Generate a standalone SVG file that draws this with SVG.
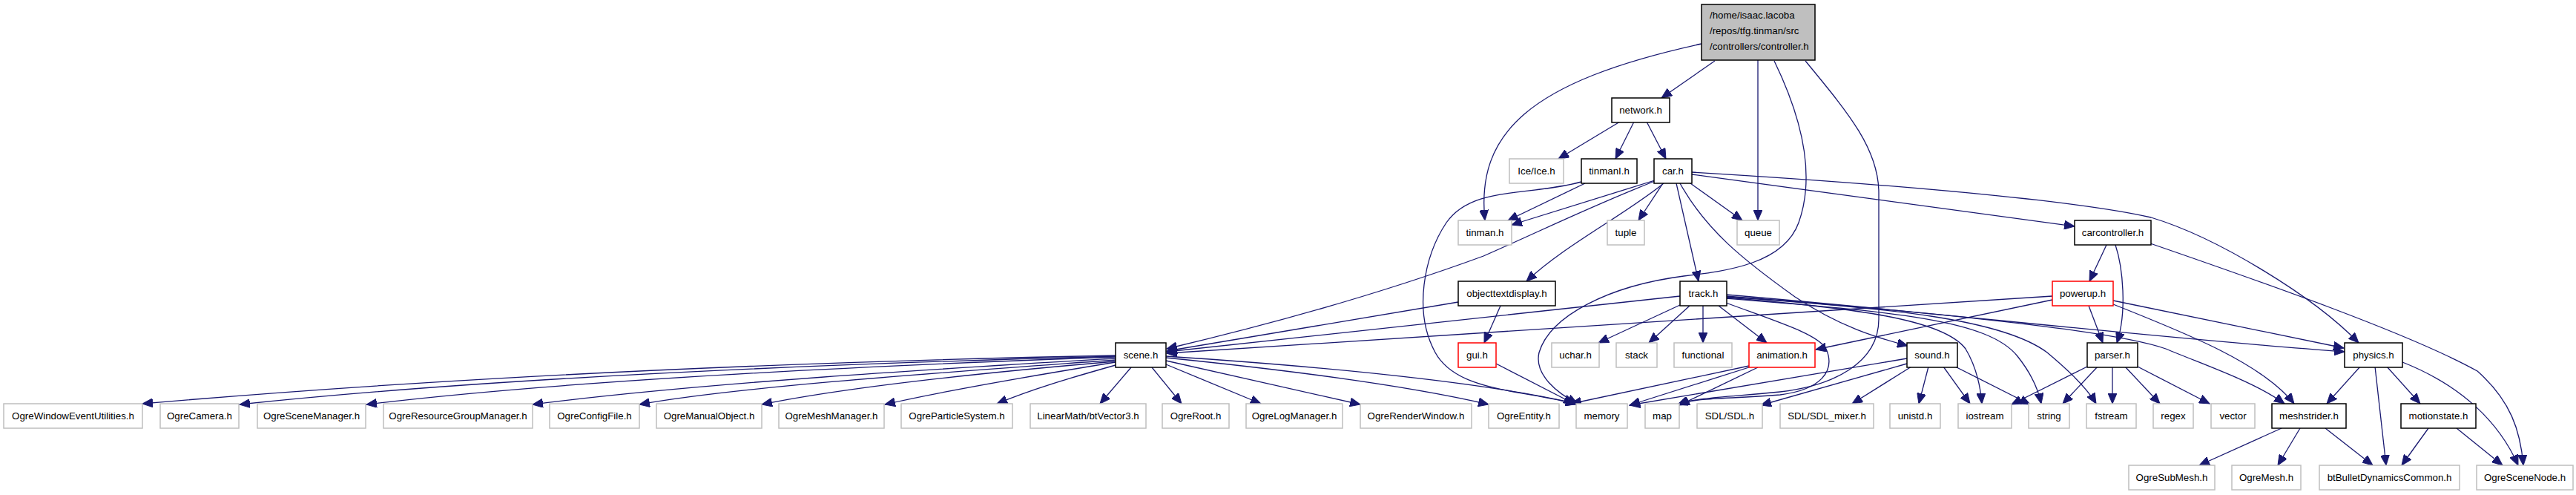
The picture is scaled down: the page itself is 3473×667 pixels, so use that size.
<svg xmlns="http://www.w3.org/2000/svg" width="3473" height="667" viewBox="0 0 3473 667">
<style>
.n rect{fill:#fff;stroke:#000;stroke-width:1.5}
.x rect{fill:#fff;stroke:#bfbfbf;stroke-width:1.5}
.r rect{fill:#fff;stroke:#ff0000;stroke-width:1.5}
.root rect{fill:#bfbfbf;stroke:#000;stroke-width:1.5}
text{font-family:"Liberation Sans",Arial,Helvetica,sans-serif;font-size:13.3px;fill:#000;text-anchor:middle}
.root text{text-anchor:start}
#edges path{fill:none;stroke:#191970;stroke-width:1.3;marker-end:url(#ah)}
</style>
<defs>
<marker id="ah" markerUnits="userSpaceOnUse" markerWidth="15" markerHeight="12" refX="14" refY="6" orient="auto">
<path d="M0,0 L14,6 L0,12 z" fill="#191970" stroke="#191970" stroke-width="1"/>
</marker>
</defs>
<rect width="3473" height="667" fill="#fff"/>
<g id="edges">
<path d="M2312,82 L2240,132"/>
<path d="M2294,59 C2060,110 1990,180 2002,297"/>
<path d="M2370,81 L2370,297"/>
<path d="M2392,82 C2425,150 2450,230 2425,300 C2405,355 2330,365 2270,372 C2170,385 2090,425 2075,475 C2068,505 2100,530 2127,544"/>
<path d="M2434,82 C2490,150 2533,200 2533,260 L2533,430 C2533,490 2470,520 2400,528 C2330,535 2290,535 2262,545"/>
<path d="M2184,164 L2101,214"/>
<path d="M2203,164 L2178,214"/>
<path d="M2220,164 L2246,214"/>
<path d="M2137,247 L2033,297"/>
<path d="M2231,243 L2038,303"/>
<path d="M2132,245 C2060,265 1985,250 1950,300 C1920,345 1905,420 1935,475 C1965,530 2060,525 2125,545"/>
<path d="M2242,247 L2209,297"/>
<path d="M2279,247 L2349,297"/>
<path d="M2260,247 L2290,379"/>
<path d="M2265,247 C2300,310 2350,350 2420,400 C2480,440 2530,455 2572,466"/>
<path d="M2243,247 C2190,290 2110,330 2058,379"/>
<path d="M2231,244 C2140,280 2080,310 2000,345 C1850,400 1700,440 1573,470"/>
<path d="M2281,232 C2550,248 2800,270 2900,293 C2990,320 3120,400 3180,462"/>
<path d="M2281,235 L2797,305"/>
<path d="M1966,407 L1573,473"/>
<path d="M2023,412 L2001,462"/>
<path d="M2265,399 L1573,474"/>
<path d="M2767,399 L1573,476"/>
<path d="M2767,404 L2448,471"/>
<path d="M2017,490 L2122,544"/>
<path d="M2265,411 L2155,462"/>
<path d="M2278,412 L2223,462"/>
<path d="M2296,412 L2296,462"/>
<path d="M2317,412 L2382,462"/>
<path d="M2327,408 C2400,435 2450,450 2462,470 C2475,500 2455,525 2400,532 C2330,538 2290,535 2262,545"/>
<path d="M2327,397 C2600,420 2900,455 3161,474"/>
<path d="M2327,399 C2600,420 2850,445 2920,470 C2980,495 3040,515 3080,544"/>
<path d="M2327,401 C2500,415 2620,430 2650,470 C2665,495 2670,520 2672,544"/>
<path d="M2327,402 C2550,420 2680,430 2720,480 C2740,505 2748,525 2752,544"/>
<path d="M2327,400 C2550,415 2700,430 2760,475 C2790,500 2815,525 2826,544"/>
<path d="M2358,493 L2118,544"/>
<path d="M2358,495 L2197,546"/>
<path d="M2370,495 L2264,546"/>
<path d="M2571,483 L2197,546"/>
<path d="M2571,490 L2374,546"/>
<path d="M2577,494 L2497,544"/>
<path d="M2600,494 L2587,544"/>
<path d="M2620,494 L2656,544"/>
<path d="M2636,494 L2737,545"/>
<path d="M2816,412 L2835,462"/>
<path d="M2849,405 L3160,469"/>
<path d="M2849,410 C2950,450 3050,490 3093,544"/>
<path d="M2840,330 L2817,379"/>
<path d="M2852,330 C2862,360 2868,420 2854,462"/>
<path d="M2899,328 C3050,380 3250,450 3340,500 C3385,540 3398,580 3402,627"/>
<path d="M2814,494 L2712,545"/>
<path d="M2828,494 L2781,544"/>
<path d="M2848,494 L2848,544"/>
<path d="M2865,494 L2912,544"/>
<path d="M2882,494 L2979,544"/>
<path d="M3182,494 L3137,544"/>
<path d="M3202,494 L3217,627"/>
<path d="M3218,494 L3263,544"/>
<path d="M3239,488 C3320,520 3370,570 3395,627"/>
<path d="M3076,577 L2965,627"/>
<path d="M3101,577 L3071,627"/>
<path d="M3135,577 L3199,627"/>
<path d="M3274,577 L3238,627"/>
<path d="M3312,577 L3374,627"/>
<path d="M1504,479 C1200,485 700,500 192,544"/>
<path d="M1504,480 C1200,488 700,505 323,545"/>
<path d="M1504,481 C1250,490 800,508 494,545"/>
<path d="M1504,483 C1300,495 950,515 718,545"/>
<path d="M1504,485 C1300,500 1000,520 862,545"/>
<path d="M1504,487 C1350,500 1150,520 1027,545"/>
<path d="M1504,488 C1400,505 1280,525 1193,545"/>
<path d="M1504,492 C1440,510 1390,525 1344,544"/>
<path d="M1525,495 L1483,544"/>
<path d="M1553,495 L1593,544"/>
<path d="M1572,491 L1700,544"/>
<path d="M1572,486 L1834,545"/>
<path d="M1572,482 C1750,500 1900,520 2007,545"/>
<path d="M1572,480 C1800,495 2000,515 2126,544"/>
</g>
<g id="n_root" class="root"><rect x="2294" y="6" width="153" height="75"/><text x="2305" y="25">/home/isaac.lacoba</text><text x="2305" y="46">/repos/tfg.tinman/src</text><text x="2305" y="67">/controllers/controller.h</text></g>
<g id="n_network" class="n"><rect x="2173" y="132" width="78" height="33"/><text x="2212" y="153">network.h</text></g>
<g id="n_ice" class="x"><rect x="2035" y="214" width="73" height="33"/><text x="2071.5" y="235">Ice/Ice.h</text></g>
<g id="n_tinmanI" class="n"><rect x="2132" y="214" width="75" height="33"/><text x="2169.5" y="235">tinmanI.h</text></g>
<g id="n_car" class="n"><rect x="2230" y="214" width="51" height="33"/><text x="2255.5" y="235">car.h</text></g>
<g id="n_tinman" class="x"><rect x="1966" y="297" width="72" height="33"/><text x="2002" y="318">tinman.h</text></g>
<g id="n_tuple" class="x"><rect x="2167" y="297" width="50" height="33"/><text x="2192" y="318">tuple</text></g>
<g id="n_queue" class="x"><rect x="2342" y="297" width="57" height="33"/><text x="2370.5" y="318">queue</text></g>
<g id="n_carcontroller" class="n"><rect x="2797" y="297" width="103" height="33"/><text x="2848.5" y="318">carcontroller.h</text></g>
<g id="n_objecttextdisplay" class="n"><rect x="1966" y="379" width="131" height="33"/><text x="2031.5" y="400">objecttextdisplay.h</text></g>
<g id="n_track" class="n"><rect x="2265" y="379" width="63" height="33"/><text x="2296.5" y="400">track.h</text></g>
<g id="n_powerup" class="r"><rect x="2767" y="379" width="82" height="33"/><text x="2808" y="400">powerup.h</text></g>
<g id="n_scene" class="n"><rect x="1504" y="462" width="68" height="33"/><text x="1538" y="483">scene.h</text></g>
<g id="n_gui" class="r"><rect x="1966" y="462" width="51" height="33"/><text x="1991.5" y="483">gui.h</text></g>
<g id="n_uchar" class="x"><rect x="2092" y="462" width="64" height="33"/><text x="2124" y="483">uchar.h</text></g>
<g id="n_stack" class="x"><rect x="2179" y="462" width="55" height="33"/><text x="2206.5" y="483">stack</text></g>
<g id="n_functional" class="x"><rect x="2257" y="462" width="78" height="33"/><text x="2296" y="483">functional</text></g>
<g id="n_animation" class="r"><rect x="2358" y="462" width="89" height="33"/><text x="2402.5" y="483">animation.h</text></g>
<g id="n_sound" class="n"><rect x="2571" y="462" width="68" height="33"/><text x="2605" y="483">sound.h</text></g>
<g id="n_parser" class="n"><rect x="2814" y="462" width="68" height="33"/><text x="2848" y="483">parser.h</text></g>
<g id="n_physics" class="n"><rect x="3161" y="462" width="78" height="33"/><text x="3200" y="483">physics.h</text></g>
<g id="n_OgreWindowEventUtilities" class="x"><rect x="5" y="544" width="187" height="33"/><text x="98.5" y="565">OgreWindowEventUtilities.h</text></g>
<g id="n_OgreCamera" class="x"><rect x="216" y="544" width="106" height="33"/><text x="269" y="565">OgreCamera.h</text></g>
<g id="n_OgreSceneManager" class="x"><rect x="347" y="544" width="146" height="33"/><text x="420" y="565">OgreSceneManager.h</text></g>
<g id="n_OgreResourceGroupManager" class="x"><rect x="517" y="544" width="201" height="33"/><text x="617.5" y="565">OgreResourceGroupManager.h</text></g>
<g id="n_OgreConfigFile" class="x"><rect x="741" y="544" width="121" height="33"/><text x="801.5" y="565">OgreConfigFile.h</text></g>
<g id="n_OgreManualObject" class="x"><rect x="885" y="544" width="142" height="33"/><text x="956" y="565">OgreManualObject.h</text></g>
<g id="n_OgreMeshManager" class="x"><rect x="1050" y="544" width="142" height="33"/><text x="1121" y="565">OgreMeshManager.h</text></g>
<g id="n_OgreParticleSystem" class="x"><rect x="1215" y="544" width="150" height="33"/><text x="1290" y="565">OgreParticleSystem.h</text></g>
<g id="n_btVector3" class="x"><rect x="1389" y="544" width="156" height="33"/><text x="1467" y="565">LinearMath/btVector3.h</text></g>
<g id="n_OgreRoot" class="x"><rect x="1567" y="544" width="90" height="33"/><text x="1612" y="565">OgreRoot.h</text></g>
<g id="n_OgreLogManager" class="x"><rect x="1680" y="544" width="130" height="33"/><text x="1745" y="565">OgreLogManager.h</text></g>
<g id="n_OgreRenderWindow" class="x"><rect x="1834" y="544" width="150" height="33"/><text x="1909" y="565">OgreRenderWindow.h</text></g>
<g id="n_OgreEntity" class="x"><rect x="2007" y="544" width="95" height="33"/><text x="2054.5" y="565">OgreEntity.h</text></g>
<g id="n_memory" class="x"><rect x="2125" y="544" width="69" height="33"/><text x="2159.5" y="565">memory</text></g>
<g id="n_map" class="x"><rect x="2218" y="544" width="46" height="33"/><text x="2241" y="565">map</text></g>
<g id="n_SDL" class="x"><rect x="2288" y="544" width="88" height="33"/><text x="2332" y="565">SDL/SDL.h</text></g>
<g id="n_SDL_mixer" class="x"><rect x="2400" y="544" width="126" height="33"/><text x="2463" y="565">SDL/SDL_mixer.h</text></g>
<g id="n_unistd" class="x"><rect x="2548" y="544" width="68" height="33"/><text x="2582" y="565">unistd.h</text></g>
<g id="n_iostream" class="x"><rect x="2640" y="544" width="72" height="33"/><text x="2676" y="565">iostream</text></g>
<g id="n_string" class="x"><rect x="2735" y="544" width="55" height="33"/><text x="2762.5" y="565">string</text></g>
<g id="n_fstream" class="x"><rect x="2813" y="544" width="67" height="33"/><text x="2846.5" y="565">fstream</text></g>
<g id="n_regex" class="x"><rect x="2903" y="544" width="54" height="33"/><text x="2930" y="565">regex</text></g>
<g id="n_vector" class="x"><rect x="2981" y="544" width="59" height="33"/><text x="3010.5" y="565">vector</text></g>
<g id="n_meshstrider" class="n"><rect x="3063" y="544" width="100" height="33"/><text x="3113" y="565">meshstrider.h</text></g>
<g id="n_motionstate" class="n"><rect x="3237" y="544" width="101" height="33"/><text x="3287.5" y="565">motionstate.h</text></g>
<g id="n_OgreSubMesh" class="x"><rect x="2870" y="627" width="116" height="33"/><text x="2928" y="648">OgreSubMesh.h</text></g>
<g id="n_OgreMesh" class="x"><rect x="3009" y="627" width="93" height="33"/><text x="3055.5" y="648">OgreMesh.h</text></g>
<g id="n_btBullet" class="x"><rect x="3127" y="627" width="189" height="33"/><text x="3221.5" y="648">btBulletDynamicsCommon.h</text></g>
<g id="n_OgreSceneNode" class="x"><rect x="3339" y="627" width="130" height="33"/><text x="3404" y="648">OgreSceneNode.h</text></g>
</svg>
